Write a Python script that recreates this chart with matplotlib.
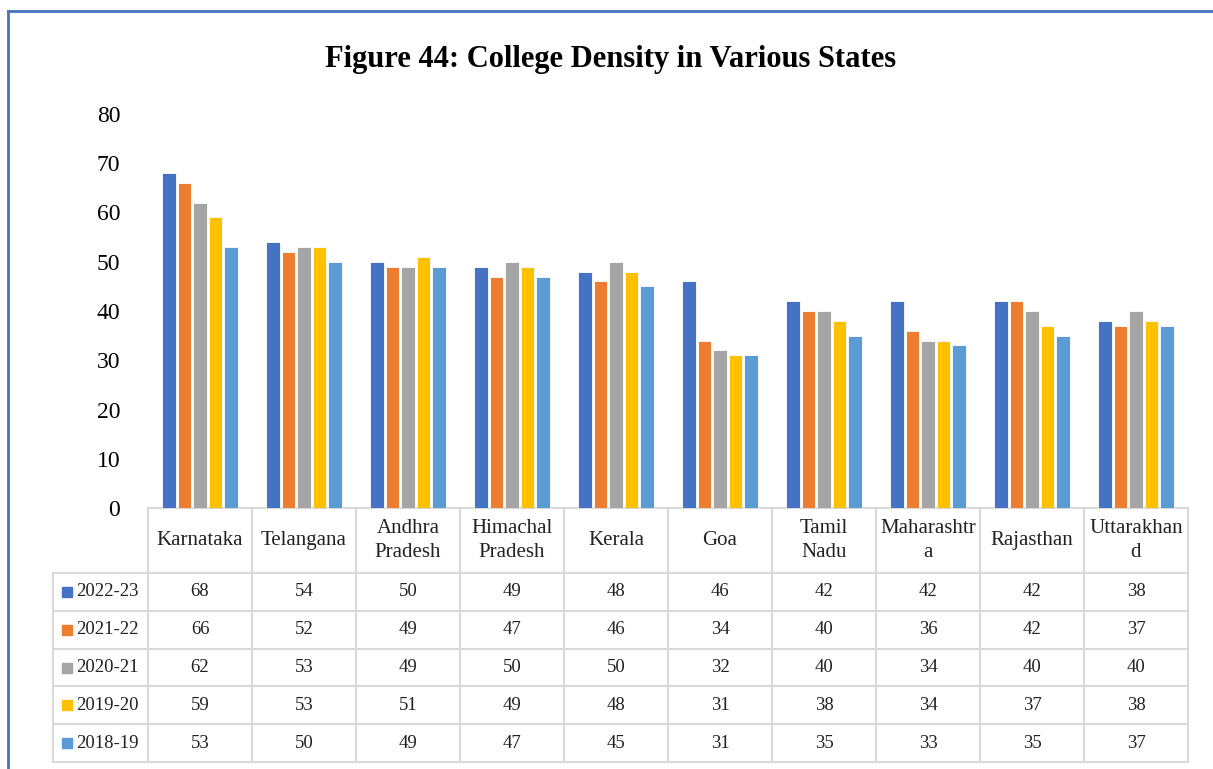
import matplotlib
matplotlib.use("Agg")
import matplotlib.pyplot as plt
from matplotlib.table import Table
from matplotlib.lines import Line2D

plt.rcParams['font.family'] = ['Liberation Serif', 'DejaVu Serif']

# data
states = ['Karnataka', 'Telangana', 'Andhra\nPradesh', 'Himachal\nPradesh', 'Kerala',
          'Goa', 'Tamil\nNadu', 'Maharashtr\na', 'Rajasthan', 'Uttarakhan\nd']
years = ['2022-23', '2021-22', '2020-21', '2019-20', '2018-19']
v_2022_23 = [68, 54, 50, 49, 48, 46, 42, 42, 42, 38]
v_2021_22 = [66, 52, 49, 47, 46, 34, 40, 36, 42, 37]
v_2020_21 = [62, 53, 49, 50, 50, 32, 40, 34, 40, 40]
v_2019_20 = [59, 53, 51, 49, 48, 31, 38, 34, 37, 38]
v_2018_19 = [53, 50, 49, 47, 45, 31, 35, 33, 35, 37]
series = [v_2022_23, v_2021_22, v_2020_21, v_2019_20, v_2018_19]
colors = ['#4472C4', '#ED7D31', '#A5A5A5', '#FFC000', '#5B9BD5']

W, H = 1213, 769
fig = plt.figure(figsize=(W / 100, H / 100), dpi=100)

# plot area in pixels: x 148..1188, y 114..508
ax = fig.add_axes([148 / W, 1 - 508 / H, 1040 / W, 394 / H])

slot = 0.148
for j, vals in enumerate(series):
    xs = [i + (j - 2) * slot for i in range(len(states))]
    ax.bar(xs, vals, width=slot * 0.88, color=colors[j], edgecolor='white', linewidth=0.6)

ax.set_xlim(-0.5, len(states) - 0.5)
ax.set_ylim(0, 80)
ax.set_yticks(range(0, 81, 10))
ax.set_xticks([])
ax.tick_params(axis='y', length=0, labelsize=17, pad=20)
for s in ax.spines.values():
    s.set_visible(False)

# data table under the bars
lab_w = 95 / 1040
col_w = 0.1
head_h = 65 / 394
row_h = 37.8 / 394
tab = Table(ax, bbox=[-lab_w, -(head_h + 5 * row_h), lab_w + col_w * len(states), head_h + 5 * row_h])
tab.auto_set_font_size(False)

c = tab.add_cell(0, 0, lab_w, head_h, text='', loc='center')
c.visible_edges = ''
for i, st in enumerate(states):
    tab.add_cell(0, i + 1, col_w, head_h, text=st, loc='center')
for j, yr in enumerate(years):
    tab.add_cell(j + 1, 0, lab_w, row_h, text=yr, loc='right')
    for i, v in enumerate(series[j]):
        tab.add_cell(j + 1, i + 1, col_w, row_h, text=str(v), loc='center')

tab.set_fontsize(13.5)
for (r, cc), cell in tab.get_celld().items():
    cell.set_edgecolor('#D9D9D9')
    cell.set_linewidth(1.5)
    cell.get_text().set_color('#222222')
    if r == 0:
        cell.get_text().set_fontsize(15)
        cell.get_text().set_linespacing(1.3)
ax.add_table(tab)

# legend keys in the row labels
for j in range(len(years)):
    yc = -(head_h + row_h * (j + 0.5))
    ax.plot([-81 / 1040], [yc], marker='s', ms=7.2, color=colors[j],
            transform=ax.transAxes, clip_on=False, linestyle='none')

fig.text(611 / W, 1 - 60 / H, 'Figure 44: College Density in Various States',
         ha='center', va='center', fontsize=22, fontweight='bold')

# chart border (top and left visible)
bc = '#4472C4'
fig.add_artist(Line2D([8 / W, 1], [1 - 11 / H, 1 - 11 / H], color=bc, lw=2))
fig.add_artist(Line2D([8 / W, 8 / W], [0, 1 - 11 / H], color=bc, lw=2))

fig.savefig('out.png', dpi=100)
